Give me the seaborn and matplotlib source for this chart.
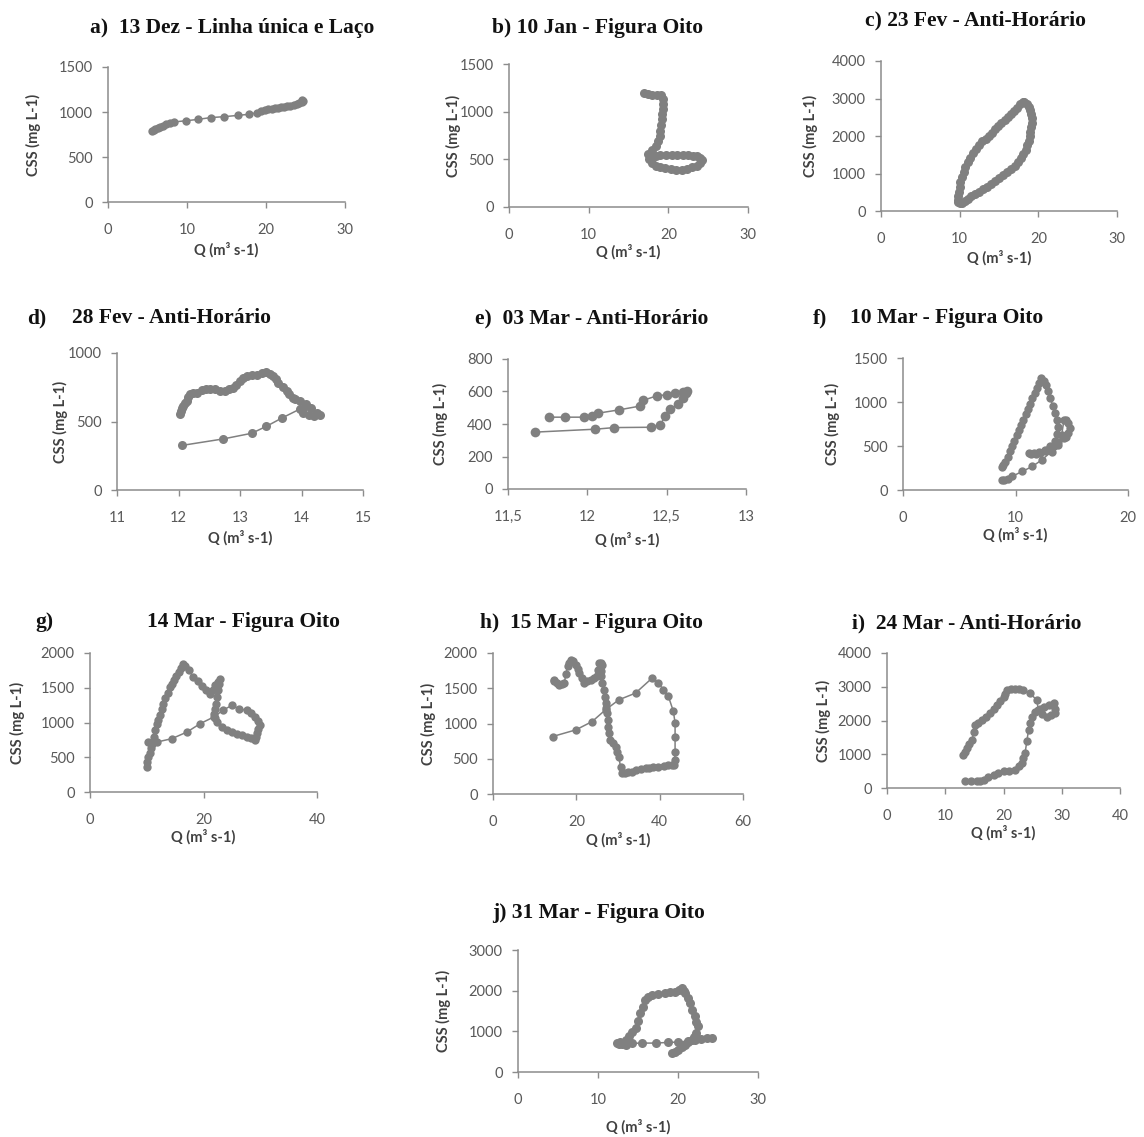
import matplotlib
matplotlib.use("Agg")
import matplotlib.pyplot as plt
import seaborn as sns

# ---------------- data ----------------
Q_a = [5.6, 5.8, 6.0, 6.3, 6.6, 6.9, 7.3, 7.8, 8.4, 9.9, 11.4, 13.0, 14.7, 16.4, 17.9, 18.8, 19.4,
       19.9, 20.3, 20.7, 21.1, 21.5, 21.9, 22.3, 22.7, 23.1, 23.5, 23.9, 24.2, 24.5, 24.7, 24.6]
CSS_a = [790, 800, 812, 825, 838, 850, 862, 875, 890, 903, 918, 938, 948, 962, 975, 992, 1008,
         1020, 1028, 1035, 1040, 1046, 1052, 1058, 1064, 1072, 1082, 1092, 1102, 1112, 1125, 1138]

Q_b = [17.0, 17.5, 18.0, 18.6, 19.1, 19.3, 19.3, 19.3, 19.2, 19.2, 19.1, 19.0, 18.9, 18.7, 18.4, 17.9,
       17.4, 17.8, 18.4, 19.0, 19.7, 20.4, 21.1, 21.8, 22.5, 23.1, 23.6, 24.0, 24.2, 24.0, 23.6, 23.0,
       22.4, 21.7, 21.0, 20.3, 19.6, 19.0, 18.4, 17.9, 17.6]
CSS_b = [1199, 1185, 1174, 1176, 1170, 1130, 1080, 1030, 975, 920, 860, 800, 740, 690, 640, 600,
         561, 535, 540, 545, 548, 550, 550, 548, 545, 540, 530, 515, 490, 460, 435, 415,
         400, 390, 388, 395, 405, 415, 435, 460, 500]

Q_c = [9.8, 10.0, 10.3, 10.7, 11.1, 11.5, 12.0, 12.5, 13.0, 13.5, 14.0, 14.5, 15.0, 15.5, 16.0, 16.5,
       17.0, 17.4, 17.8, 18.1, 18.4, 18.6, 18.8, 18.9, 19.0, 19.1, 19.2, 19.2, 19.1, 19.0, 18.8, 18.5,
       18.2, 18.0, 17.7, 17.3, 16.9, 16.5, 16.1, 15.7, 15.3, 14.9, 14.5, 14.1, 13.7, 13.3, 12.9, 12.5,
       12.1, 11.7, 11.3, 11.0, 10.7, 10.5, 10.3, 10.1, 10.0, 9.9, 9.8, 9.8]
CSS_c = [250, 210, 220, 270, 330, 390, 450, 520, 580, 640, 710, 790, 870, 950, 1030, 1110,
         1200, 1300, 1420, 1530, 1640, 1760, 1880, 2000, 2120, 2240, 2360, 2480, 2600, 2700, 2780, 2850,
         2900, 2920, 2850, 2750, 2670, 2590, 2510, 2430, 2350, 2270, 2180, 2080, 1990, 1920, 1860, 1760,
         1650, 1540, 1420, 1300, 1170, 1040, 910, 780, 650, 520, 400, 300]

Q_d = [12.05, 12.73, 13.19, 13.43, 13.68, 13.97, 14.08,
       14.03, 14.12, 14.2, 14.3, 14.25, 14.15, 14.08, 13.97, 13.9, 13.86, 13.8, 13.76, 13.7, 13.62,
       13.58, 13.54, 13.48, 13.43, 13.35, 13.27, 13.19, 13.11, 13.05, 13.0, 12.94, 12.89, 12.82, 12.76,
       12.68, 12.6, 12.52, 12.45, 12.38, 12.3, 12.24, 12.19, 12.16, 12.14, 12.1, 12.08, 12.05, 12.04, 12.03]
CSS_d = [325, 373, 414, 465, 525, 590, 614,
         560, 545, 538, 547, 560, 600, 627, 650, 665, 675, 700, 723, 750, 783,
         810, 831, 850, 863, 855, 843, 838, 831, 815, 795, 770, 747, 735, 723,
         725, 735, 740, 735, 728, 711, 705, 699, 680, 651, 632, 614, 596, 578, 554]

Q_e = [11.67, 12.05, 12.17, 12.40, 12.46, 12.49, 12.52, 12.57, 12.60, 12.62, 12.63, 12.60,
       12.55, 12.50, 12.44, 12.35, 12.33, 12.20, 12.07, 12.03, 11.98, 11.86, 11.76]
CSS_e = [350, 368, 378, 380, 395, 448, 490, 520, 560, 590, 605, 595,
         590, 580, 574, 545, 510, 487, 467, 450, 442, 442, 442]

Q_f = [8.8, 9.0, 9.3, 9.7, 10.6, 11.5, 12.35, 13.2, 13.8, 14.3,
       14.5, 14.7, 14.8, 14.7, 14.5, 14.3, 14.1, 13.8, 13.4, 13.0, 12.6, 12.2, 11.8, 11.4, 11.2,
       11.6, 12.1, 12.6, 13.1, 13.5, 13.7, 13.8,
       13.7, 13.5, 13.3, 13.1, 12.9, 12.7, 12.5, 12.3,
       12.1, 11.9, 11.7, 11.5, 11.3, 11.1, 10.9, 10.7, 10.5, 10.3, 10.1, 9.9, 9.7, 9.5, 9.3, 9.1, 8.9, 8.8]
CSS_f = [117, 110, 125, 155, 211, 268, 343, 437, 513, 590,
         600, 650, 700, 760, 800, 790, 620, 540, 500, 470, 445, 420, 408, 410, 420,
         425, 435, 460, 495, 560, 640, 720,
         800, 880, 960, 1040, 1120, 1190, 1240, 1270,
         1220, 1160, 1100, 1040, 980, 920, 860, 800, 740, 680, 620, 560, 500, 440, 380, 320, 280, 260]

Q_g = [10.3, 11.8, 14.4, 17.1, 19.4, 21.8, 23.5, 25.0,
       26.2, 27.6, 28.4, 29.1, 29.6, 30.0, 29.6, 29.4, 29.2, 29.1, 28.3, 27.6, 26.8, 25.9, 25.0, 24.1,
       23.2, 22.4, 22.0, 21.8,
       22.0, 22.2, 22.4, 22.6, 22.8, 22.9, 22.5, 22.1, 21.7, 21.2,
       20.5, 19.8, 19.0, 18.2, 17.4, 16.8, 16.4,
       16.0, 15.6, 15.2, 14.8, 14.4, 14.1, 13.7, 13.3, 12.9, 12.6, 12.3, 12.0, 11.8, 11.5, 11.2, 10.9,
       10.7, 10.5, 10.3, 10.1, 10.0]
CSS_g = [720, 719, 767, 863, 983, 1079, 1180, 1247,
         1199, 1175, 1130, 1079, 1020, 959, 900, 850, 790, 743, 770, 791, 815, 839, 865, 887,
         940, 1007, 1060, 1127,
         1200, 1271, 1360, 1463, 1560, 1631, 1580, 1535, 1470, 1415,
         1470, 1520, 1590, 1655, 1750, 1810, 1847,
         1790, 1730, 1670, 1610, 1550, 1511, 1430, 1350, 1271, 1190, 1110, 1030, 983, 890, 790, 695,
         630, 560, 500, 430, 360]

Q_h = [14.3, 19.9, 23.8, 27.0, 30.2, 34.2, 38.2,
       39.7, 40.9, 42.1, 43.3, 43.7, 43.7, 43.7, 43.6, 43.5,
       43.0, 42.1, 41.0, 39.7, 38.5, 37.5, 36.6, 35.5, 34.4, 33.4, 32.5, 31.7, 31.0,
       30.6, 30.2, 29.8, 29.4, 28.8, 28.1, 27.9, 27.7, 27.5, 27.4, 27.2, 27.0, 26.8, 26.6, 26.2, 25.8,
       26.0, 26.2, 25.8, 25.4, 25.2, 25.0, 24.2, 23.4, 22.6, 21.9, 21.3, 20.7, 20.3, 19.9, 19.3, 18.7,
       18.2, 17.9, 17.5, 17.1, 16.5, 15.9, 15.3, 14.7, 14.6]
CSS_h = [815, 910, 1028, 1194, 1336, 1431, 1645,
         1573, 1479, 1384, 1171, 1005, 815, 602, 480, 412,
         410, 412, 400, 389, 380, 370, 365, 350, 335, 318, 310, 300, 294,
         380, 531, 600, 673, 720, 768, 860, 957, 1050, 1147, 1220, 1289, 1380, 1479, 1570, 1668,
         1750, 1834, 1860, 1858, 1760, 1668, 1645, 1621, 1600, 1573, 1640, 1716, 1780, 1834, 1880, 1905,
         1860, 1810, 1700, 1573, 1555, 1550, 1570, 1597, 1620]

Q_i = [13.4, 14.4, 15.4, 16.0, 16.6, 17.4, 18.3, 19.1, 20.0, 21.0, 22.0, 22.6, 23.1, 23.4, 23.7,
       24.0, 24.3, 24.6, 24.9, 25.4,
       26.2, 26.9, 27.8, 28.6, 28.9, 28.9, 28.2, 27.4, 26.6, 26.0, 25.7,
       24.6, 23.4, 22.7, 22.0, 21.3, 20.6, 20.3, 20.0, 19.4, 18.9, 18.3, 17.7, 17.0, 16.3, 15.7, 15.1,
       14.9, 14.6, 14.1, 13.7, 13.4, 13.1]
CSS_i = [197, 197, 197, 215, 246, 320, 393, 440, 491, 515, 541, 640, 737, 880, 1032,
         1380, 1720, 1920, 2113, 2260,
         2340, 2408, 2460, 2506, 2350, 2211, 2160, 2113, 2200, 2310, 2604,
         2801, 2899, 2930, 2948, 2930, 2899, 2800, 2703, 2580, 2457, 2330, 2211, 2110, 2015, 1940, 1867,
         1650, 1425, 1300, 1179, 1080, 983]

Q_j = [24.3, 23.6, 22.9, 22.1, 21.2, 20.0, 18.8, 17.2, 15.5, 14.3,
       13.5, 13.0, 12.6, 12.4, 12.8, 13.5, 13.9, 14.3, 14.7, 15.0, 15.3, 15.6, 15.9, 16.3, 16.7, 17.5,
       18.4, 19.0, 19.6, 20.1, 20.5, 20.7, 20.9, 21.2, 21.5, 21.8, 22.1, 22.3, 22.5, 22.3, 22.0, 21.7,
       21.3, 20.9, 20.5, 20.0, 19.6, 19.2]
CSS_j = [840, 825, 810, 793, 760, 736, 728, 711, 711, 705,
         670, 690, 700, 711, 740, 790, 875, 980, 1079, 1260, 1447, 1610, 1774, 1850, 1897, 1915,
         1938, 1960, 1979, 2020, 2060, 2000, 1938, 1810, 1693, 1530, 1366, 1240, 1120, 957, 870, 793,
         730, 670, 610, 548, 500, 466]

titles = [
    ("a)  13 Dez - Linha única e Laço", None),
    ("b) 10 Jan - Figura Oito", None),
    ("c) 23 Fev - Anti-Horário", None),
    ("d)", "28 Fev - Anti-Horário"),
    ("e)  03 Mar - Anti-Horário", None),
    ("f)", "10 Mar - Figura Oito"),
    ("g)", "14 Mar - Figura Oito"),
    ("h)  15 Mar - Figura Oito", None),
    ("i)  24 Mar - Anti-Horário", None),
    ("j) 31 Mar - Figura Oito", None),
]
series = [(Q_a, CSS_a), (Q_b, CSS_b), (Q_c, CSS_c), (Q_d, CSS_d), (Q_e, CSS_e),
          (Q_f, CSS_f), (Q_g, CSS_g), (Q_h, CSS_h), (Q_i, CSS_i), (Q_j, CSS_j)]
xlims = [(0, 30), (0, 30), (0, 30), (11, 15), (11.5, 13), (0, 20), (0, 40), (0, 60), (0, 40), (0, 30)]
xticks = [[0, 10, 20, 30], [0, 10, 20, 30], [0, 10, 20, 30], [11, 12, 13, 14, 15],
          [11.5, 12, 12.5, 13], [0, 10, 20], [0, 20, 40], [0, 20, 40, 60],
          [0, 10, 20, 30, 40], [0, 10, 20, 30]]
ylims = [(0, 1500), (0, 1500), (0, 4000), (0, 1000), (0, 800), (0, 1500), (0, 2000), (0, 2000),
         (0, 4000), (0, 3000)]
ysteps = [500, 500, 1000, 500, 200, 500, 500, 500, 1000, 1000]
xlabel = "Q (m³ s-1)"
ylabel = "CSS (mg L-1)"

# ---------------- layout (pixels) ----------------
W, H = 1144, 1137
boxes = [(108, 345, 202, 67), (509, 748, 207, 64), (881, 1117, 211, 61),
         (117, 363, 490, 353), (508, 746, 489, 359), (903, 1128, 490, 358),
         (90, 317, 792, 653), (493, 743, 794, 653), (887, 1120, 788, 653),
         (518, 758, 1072, 950)]
ylab_x = [33, 453, 810, 60, 440, 832, 17, 428, 823, 443]
xlab_y = [250, 252, 258, 538, 540, 535, 837, 840, 833, 1127]
title_pos = [((90, 28), None), ((492, 28), None), ((865, 20), None),
             ((27, 318), (72, 318)), ((475, 318), None), ((813, 318), (850, 318)),
             ((35, 622), (147, 622)), ((480, 623), None), ((852, 623), None),
             ((492, 913), None)]
marker_sizes = [6, 6.5, 6.5, 6.5, 7, 6, 6, 6, 6, 6.5]

sns.set_theme(style="white")
plt.rcParams["font.family"] = ["Lato", "DejaVu Sans"]

SPINE = "#8c8c8c"
TICK = "#595959"
LAB = "#404040"
MARK = "#808080"

fig = plt.figure(figsize=(W / 100, H / 100), dpi=100)


def fmt(v):
    s = ("%g" % v)
    return s.replace(".", ",")


for k in range(10):
    l, r, y0, yt = boxes[k]
    ax = fig.add_axes([l / W, 1 - y0 / H, (r - l) / W, (y0 - yt) / H])
    q, c = series[k]
    sns.lineplot(x=q, y=c, sort=False, estimator=None, marker="o", markersize=marker_sizes[k],
                 markeredgewidth=0, color=MARK, linewidth=1.1, ax=ax)
    ax.set_xlim(*xlims[k])
    ax.set_ylim(*ylims[k])
    ax.set_xticks(xticks[k])
    ax.set_xticklabels([fmt(v) for v in xticks[k]])
    yt_vals = list(range(0, ylims[k][1] + 1, ysteps[k]))
    ax.set_yticks(yt_vals)
    ax.set_yticklabels([str(v) for v in yt_vals])
    sns.despine(ax=ax)
    for s in ("left", "bottom"):
        ax.spines[s].set_color(SPINE)
        ax.spines[s].set_linewidth(1.1)
    ax.tick_params(axis="both", which="major", direction="out", length=4, width=1,
                   color=SPINE, labelcolor=TICK, labelsize=10.5, left=True, bottom=True)
    ax.tick_params(axis="x", pad=11)
    ax.tick_params(axis="y", pad=7)
    ax.grid(False)
    ax.set_xlabel(xlabel, fontsize=10.5, fontweight="bold", color=LAB)
    ax.set_ylabel(ylabel, fontsize=10.5, fontweight="bold", color=LAB)
    ax.xaxis.set_label_coords(0.5, -(xlab_y[k] - y0) / (y0 - yt))
    ax.xaxis.label.set_verticalalignment("center")
    ax.yaxis.set_label_coords(-(l - ylab_x[k]) / (r - l), 0.5)
    ax.yaxis.label.set_verticalalignment("center")

    t1, t2 = titles[k]
    p1, p2 = title_pos[k]
    fig.text(p1[0] / W, 1 - p1[1] / H, t1, ha="left", va="center",
             family=["Liberation Serif", "DejaVu Serif"], fontweight="bold", fontsize=15.5, color="#111111")
    if t2 is not None:
        fig.text(p2[0] / W, 1 - p2[1] / H, t2, ha="left", va="center",
                 family=["Liberation Serif", "DejaVu Serif"], fontweight="bold", fontsize=15.5, color="#111111")

fig.savefig("out.png", dpi=100, facecolor="white")
